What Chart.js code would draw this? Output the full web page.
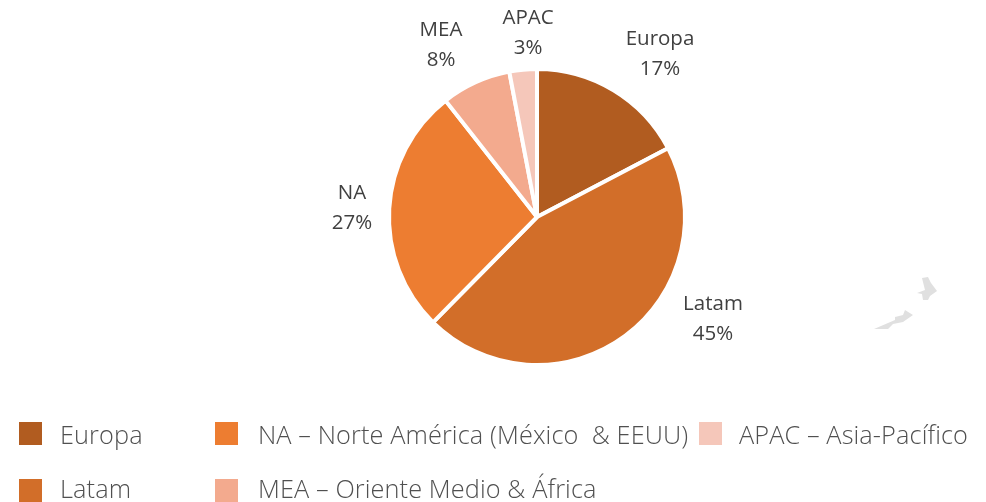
<!DOCTYPE html>
<html><head><meta charset="utf-8">
<script src="https://cdn.jsdelivr.net/npm/chart.js@4"></script>
<style>
html,body{margin:0;padding:0;background:#fff;width:986px;height:502px;overflow:hidden}
#wrap{position:relative;width:986px;height:502px}
canvas{position:absolute;left:0;top:0}
.lg{position:absolute;font:300 25.3px "Open Sans",sans-serif;letter-spacing:.1px;color:#505050;white-space:pre;line-height:30px}
.sw{position:absolute;width:23px;height:23px}
svg{position:absolute;left:860px;top:265px}
</style></head><body>
<div id="wrap"><canvas id="c" width="986" height="502"></canvas>
<svg width="90" height="75"><path fill="#e0e0e0" d="M62 13 68 12 71 18 77 26 70 31 68 35 63 35 62 29 57 28 65 25 63 17Z"/><path fill="#e0e0e0" d="M14 64 35 55 35 52 43 50 45 45 53 50 43 57 33 59 28 64Z"/></svg>
</div>
<script>
const categories=["Europa","Latam","NA","MEA","APAC"];
const shares=[17.3,45.1,27.0,7.6,3.0];
const colors=["#B15C20","#D26E29","#ED7D31","#F3AA8E","#F5C7BA"];
const legendNames=["Europa","Latam","NA – Norte América (México  & EEUU)","MEA – Oriente Medio & África","APAC – Asia-Pacífico"];
const legendSpots=[[19,422,60,419],[19,479,60,473],[215,422,258,419],[215,479,258,473],[699,422,739,419]];
const labelSpots=[[660,39.5],[713,304],[352,193],[441,30.5],[528,18]];

const wrap=document.getElementById('wrap');
legendNames.forEach((n,i)=>{
  const [x,y,tx,ty]=legendSpots[i];
  const s=document.createElement('div');s.className='sw';s.style.cssText=`left:${x}px;top:${y}px;background:${colors[i]}`;wrap.appendChild(s);
  const t=document.createElement('div');t.className='lg';t.style.left=tx+'px';t.style.top=ty+'px';t.textContent=n;wrap.appendChild(t);
});
const labelPlugin={id:'sliceLabels',afterDatasetsDraw(ch){
  const c=ch.ctx;c.save();c.font='400 20.5px "Open Sans",sans-serif';c.fillStyle='#404040';c.textAlign='center';c.textBaseline='middle';
  categories.forEach((n,i)=>{const [x,y]=labelSpots[i];c.fillText(n,x,y);c.fillText(Math.round(shares[i])+'%',x,y+30);});
  c.restore();
}};
new Chart(document.getElementById('c'),{
  type:'pie',
  data:{labels:categories,datasets:[{data:shares,backgroundColor:colors,borderColor:'#fff',borderWidth:4}]},
  options:{responsive:false,animation:false,
    layout:{padding:{left:387,right:299,top:67,bottom:135}},
    plugins:{legend:{display:false},tooltip:{enabled:false}}},
  plugins:[labelPlugin]
});
</script></body></html>
